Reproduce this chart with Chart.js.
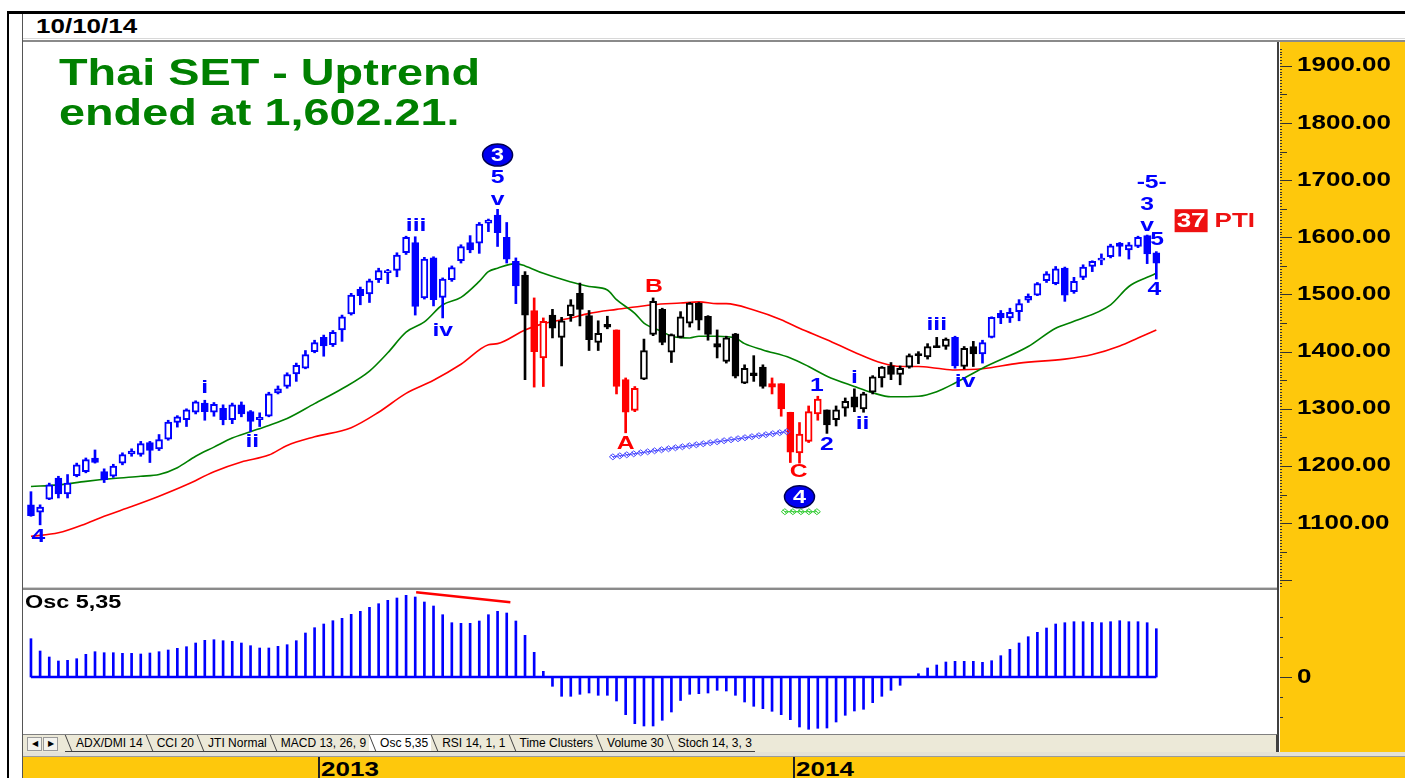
<!DOCTYPE html>
<html>
<head>
<meta charset="utf-8">
<title>Thai SET weekly</title>
<script src="https://cdn.jsdelivr.net/npm/chart.js@4.4.1/dist/chart.umd.min.js"></script>
<style>
  body { margin:0; width:1405px; height:778px; overflow:hidden; background:#fff; position:relative;
         font-family:"Liberation Sans", Arial, sans-serif; }
  .abs { position:absolute; }
  .wide { position:absolute; white-space:nowrap; line-height:1; transform:scaleX(1.3); transform-origin:0 0; }
  #tabs { position:absolute; left:23px; top:734px; width:1255px; height:18px; background:#ECE9D8;
          border-top:1px solid #808080; border-right:2px solid #404040; box-sizing:border-box; }
  .btn { position:absolute; top:2px; width:13px; height:12px; border:1px solid #9a9a9a; background:#f4f3ee;
         font-size:8px; line-height:12px; text-align:center; color:#000; }
  #tabrow { position:absolute; left:42px; top:0; height:16px; display:flex; border-bottom:1px solid #404040; }
  .tab { position:relative; padding:0 3px 0 11px; font-size:12px; line-height:16px; color:#000; white-space:nowrap; }
  .tab::before { content:""; position:absolute; left:3px; top:0; bottom:0; border-left:1px solid #404040; transform:skewX(22deg); }
  .tab.on { background:#fff; }
</style>
</head>
<body>
<!-- frame -->
<div class="abs" style="left:7px;top:11px;width:2px;height:767px;background:#000"></div>
<div class="abs" style="left:7px;top:11px;width:1398px;height:3px;background:#000"></div>
<div class="abs" style="left:22px;top:14px;width:1px;height:764px;background:#555"></div>
<div class="wide" style="left:36px;top:16px;font-weight:bold;font-size:20px;color:#000">10/10/14</div>
<div class="abs" style="left:23px;top:38px;width:1382px;height:1px;background:#d8d8d8"></div>
<div class="abs" style="left:23px;top:40px;width:1382px;height:2px;background:#8a8a8a"></div>

<!-- right axis column and borders -->
<div class="abs" style="left:1280px;top:42px;width:125px;height:710px;background:#FEC80C"></div>
<div class="abs" style="left:1277px;top:42px;width:2px;height:710px;background:#404040"></div>
<div class="abs" style="left:23px;top:587px;width:1254px;height:1px;background:#d0d0d0"></div>
<div class="abs" style="left:23px;top:588px;width:1254px;height:2px;background:#8a8a8a"></div>

<div class="abs" style="left:23px;top:43px;width:1382px;height:547px">
  <canvas id="priceCanvas" width="1382" height="547"></canvas>
</div>
<div class="abs" style="left:23px;top:590px;width:1382px;height:144px">
  <canvas id="oscCanvas" width="1382" height="144"></canvas>
</div>

<div class="wide" style="left:59px;top:55px;font-weight:bold;font-size:36px;color:#008000">Thai SET - Uptrend</div>
<div class="wide" style="left:59px;top:95px;font-weight:bold;font-size:36px;color:#008000">ended at 1,602.21.</div>
<div class="wide" style="left:25px;top:593px;font-weight:bold;font-size:18px;color:#000">Osc 5,35</div>

<div id="tabs">
  <div class="btn" style="left:4px">&#9664;</div>
  <div class="btn" style="left:20px">&#9654;</div>
  <div id="tabrow"></div>
</div>
<div class="abs" style="left:23px;top:752px;width:1382px;height:4px;background:#e4e2d8"></div>
<div class="abs" style="left:23px;top:756px;width:1382px;height:22px;background:#FEC80C;border-top:1px solid #9a9a9a;box-sizing:border-box"></div>

<script>
// weekly candles, Thai SET index (week 0 = mid 2012, week 123 = 10/10/14)
const opens = [1132,1119,1142,1179,1151,1183,1190,1214,1190,1182,
  1205,1221,1220,1241,1230,1247,1276,1281,1294,1310,
  1294,1301,1281,1307,1295,1281,1287,1328,1339,1361,
  1371,1400,1425,1412,1438,1466,1509,1501,1526,1538,
  1542,1573,1591,1494,1564,1495,1526,1559,1591,1590,
  1625,1639,1600,1558,1534,1472,1389,1464,1425,1463,
  1502,1463,1416,1448,1438,1351,1297,1352,1430,1474,
  1399,1425,1450,1485,1462,1414,1383,1431,1345,1363,
  1373,1344,1344,1294,1223,1243,1291,1298,1281,1301,
  1321,1300,1329,1354,1375,1360,1373,1396,1391,1409,
  1409,1425,1374,1409,1396,1425,1467,1459,1470,1490,
  1499,1524,1519,1546,1505,1530,1549,1560,1566,1590,
  1578,1584,1603,1573];
const highs = [1155,1132,1170,1182,1185,1205,1214,1228,1195,1203,
  1223,1230,1243,1243,1255,1280,1288,1300,1314,1315,
  1311,1307,1310,1312,1297,1293,1329,1340,1363,1380,
  1402,1420,1429,1437,1464,1502,1513,1527,1546,1544,
  1573,1602,1601,1565,1566,1529,1550,1587,1603,1626,
  1632,1649,1626,1564,1540,1494,1459,1474,1460,1491,
  1520,1472,1454,1462,1438,1354,1339,1422,1494,1476,
  1431,1470,1486,1486,1463,1438,1427,1432,1377,1393,
  1377,1354,1344,1294,1276,1305,1322,1298,1305,1319,
  1335,1329,1358,1374,1381,1375,1396,1400,1414,1425,
  1424,1427,1409,1418,1420,1461,1472,1476,1491,1501,
  1521,1540,1549,1548,1530,1552,1559,1571,1588,1591,
  1591,1602,1604,1575];
const lows = [1112,1097,1141,1144,1144,1181,1188,1205,1171,1180,
  1202,1217,1217,1206,1227,1245,1268,1269,1291,1280,
  1287,1272,1274,1286,1260,1269,1286,1326,1336,1348,
  1370,1398,1392,1409,1418,1464,1482,1486,1521,1519,
  1531,1570,1464,1492,1480,1459,1523,1555,1573,1572,
  1610,1584,1555,1484,1351,1338,1339,1424,1375,1453,
  1445,1402,1402,1440,1326,1258,1295,1351,1428,1412,
  1381,1424,1443,1438,1420,1389,1380,1354,1344,1348,
  1336,1326,1287,1206,1205,1241,1280,1257,1270,1287,
  1295,1294,1326,1338,1351,1342,1371,1379,1387,1407,
  1404,1371,1370,1374,1380,1424,1449,1451,1454,1486,
  1498,1521,1517,1488,1502,1526,1540,1552,1564,1567,
  1562,1582,1554,1527];
const closes = [1113,1128,1167,1151,1170,1202,1211,1206,1176,1200,
  1220,1226,1239,1227,1246,1277,1286,1298,1312,1295,
  1308,1281,1307,1291,1278,1285,1326,1335,1360,1376,
  1395,1416,1410,1434,1461,1499,1498,1524,1542,1542,
  1569,1600,1479,1562,1491,1527,1547,1584,1578,1623,
  1630,1608,1562,1515,1464,1400,1453,1441,1454,1482,
  1474,1421,1432,1443,1339,1294,1336,1402,1488,1416,
  1430,1461,1485,1455,1430,1408,1424,1357,1371,1358,
  1339,1338,1300,1224,1256,1295,1317,1272,1298,1313,
  1303,1326,1356,1373,1360,1371,1393,1393,1409,1407,
  1422,1375,1406,1396,1416,1460,1459,1469,1484,1497,
  1519,1536,1545,1499,1523,1548,1558,1562,1585,1584,
  1587,1600,1571,1555];

// wave-count phase of the candles: the week each phase starts and its kind
const phaseStartWeeks = [0, 54, 55, 57, 64, 67, 81, 87, 101, 102, 104];
const phaseKinds = ['impulse','neutral','abc','neutral','abc','neutral','abc','neutral','impulse','neutral','impulse'];

// moving averages
const greenMaWeeks = [0,3,6,9,12,14,16,18,20,22,24,26,28,31,34,37,39,41,43,45,47,49,50,51,53,54,56,59,61,63,64,66,67,69,70,72,73,75,77,78,80,83,85,87,90,92,94,97,99,101,104,109,112,114,118,120,122,123];
const greenMaValues = [1164,1167,1173,1178,1182,1185,1197,1217,1233,1249,1260,1271,1283,1309,1335,1366,1398,1434,1452,1482,1495,1523,1540,1546,1554,1550,1537,1522,1514,1508,1491,1467,1450,1435,1427,1424,1427,1427,1424,1414,1403,1389,1374,1357,1339,1328,1321,1322,1330,1345,1371,1409,1441,1453,1482,1514,1530,1537];
const redMaWeeks = [0,3,6,8,11,14,17,20,23,26,28,31,35,38,41,44,47,50,51,54,56,59,61,64,66,68,71,73,75,76,79,82,84,87,90,93,95,97,99,101,104,108,113,116,119,121,123];
const redMaValues = [1077,1083,1099,1112,1129,1147,1167,1190,1207,1219,1236,1251,1267,1294,1327,1350,1378,1412,1414,1438,1449,1459,1467,1474,1478,1482,1485,1487,1484,1484,1473,1456,1441,1421,1399,1380,1374,1374,1371,1368,1370,1380,1387,1395,1410,1424,1438];

// Osc 5,35 histogram
const oscValues = [38.3,26,20,16,16.7,18.3,22.7,25.3,24.3,24.3,
  23.7,23.7,23,24,25.3,27,28.7,30.3,34,36.7,
  37.3,36.3,35.7,34,31.3,29,29,30.7,32.3,36.3,
  44,49.3,53,56.3,58.7,62.7,65.7,69.7,73.3,76.7,
  79,81.7,80,75,71,62.3,54.3,53.7,53.7,56,
  62.3,65.7,64,56,41.7,24.7,5.7,-9.3,-19.3,-19.3,
  -17.3,-16,-18.3,-18.3,-24,-37.7,-46.7,-49,-49,-43.3,
  -35,-23.5,-17.3,-16.7,-16,-13.3,-14,-18.3,-25,-29.3,
  -31.7,-34.3,-37.7,-42.7,-50,-52.3,-51.3,-51,-45,-38.3,
  -34,-32.3,-25.7,-19.3,-13.3,-8.3,-0.7,3.3,9,12,
  15,15.7,15.7,15.7,14.7,16.3,21.3,27.7,34,40.3,
  44.7,49,53,54.3,55.3,55.3,54.7,54.3,55.3,56.3,
  55.3,55.3,54.3,48.3];
const oscDivergenceWeeks = [42.1, 52.4];
const oscDivergenceValues = [84.7, 74.7];

const priceTicks = [1100,1200,1300,1400,1500,1600,1700,1800,1900];
const yearLabels = ['2013', '2014'];
const yearStartWeeks = [31, 83];

// Elliott wave labels: text, week, price
const waveLabels = [
  ['4', 0.8, 1076, 'blue'], ['i', 19.0, 1337, 'blue'], ['ii', 24.2, 1242, 'blue'],
  ['iii', 42.1, 1620, 'blue'], ['iv', 45.0, 1437, 'blue'], ['5', 51.0, 1704, 'blue'],
  ['v', 51.0, 1666, 'blue'], ['B', 68.1, 1514, 'red'], ['A', 65.0, 1239, 'red'],
  ['C', 83.9, 1190, 'red'], ['1', 85.9, 1340, 'blue'], ['2', 87.0, 1237, 'blue'],
  ['i', 90.0, 1354, 'blue'], ['ii', 90.9, 1274, 'blue'], ['iii', 99.0, 1447, 'blue'],
  ['iv', 102.1, 1347, 'blue'], ['-5-', 122.5, 1695, 'blue'], ['3', 122.0, 1657, 'blue'],
  ['v', 122.0, 1621, 'blue'], ['5', 123.1, 1596, 'blue'], ['4', 122.8, 1508, 'blue']
];
const circledLabels = [['3', 51.0, 1744], ['4', 84.0, 1146]];
const blueChain = [[63.6, 1216], [82.6, 1260]];
const greenChain = [[82.4, 1120], [85.9, 1120]];
const ptiValue = '37';
const ptiSpot = [125.0, 1630];

const tabNames = ['ADX/DMI 14','CCI 20','JTI Normal','MACD 13, 26, 9','Osc 5,35','RSI 14, 1, 1','Time Clusters','Volume 30','Stoch 14, 3, 3'];

const palette = { impulse: '#0000FF', neutral: '#000000', abc: '#FF0000' };
const labelColor = { blue: '#0000FF', red: '#FF0000' };
const FONT = '"Liberation Sans", Arial, sans-serif';

function candleColor(i) {
  let k = 0;
  while (k + 1 < phaseStartWeeks.length && phaseStartWeeks[k + 1] <= i) k++;
  return palette[phaseKinds[k]];
}

// text drawn a little wide, like the screenshot
function wideText(ctx, s, x, y, font, color, align) {
  ctx.save();
  ctx.font = font;
  ctx.fillStyle = color;
  ctx.textAlign = align || 'center';
  ctx.textBaseline = 'middle';
  ctx.translate(x, y);
  ctx.scale(1.3, 1);
  ctx.fillText(s, 0, 0);
  ctx.restore();
}

function drawChain(ctx, x1, y1, x2, y2, color) {
  const n = Math.max(1, Math.floor(Math.hypot(x2 - x1, y2 - y1) / 7));
  ctx.save();
  ctx.strokeStyle = color;
  ctx.lineWidth = 1;
  ctx.beginPath(); ctx.moveTo(x1, y1); ctx.lineTo(x2, y2); ctx.stroke();
  for (let k = 0; k <= n; k++) {
    const cx = x1 + (x2 - x1) * k / n, cy = y1 + (y2 - y1) * k / n;
    ctx.beginPath();
    ctx.moveTo(cx - 3.5, cy); ctx.lineTo(cx, cy - 3); ctx.lineTo(cx + 3.5, cy); ctx.lineTo(cx, cy + 3);
    ctx.closePath();
    ctx.moveTo(cx - 2, cy - 2); ctx.lineTo(cx + 2, cy + 2);
    ctx.stroke();
  }
  ctx.restore();
}

const xAxis = { type: 'linear', min: -0.87, max: 136.3, display: false, offset: false };

// right hand price scale (ticks + labels)
const priceAxisPlugin = {
  id: 'priceAxis',
  afterDraw(chart) {
    const { ctx, chartArea, scales: { y } } = chart;
    const x0 = chartArea.right + 2;
    ctx.save();
    ctx.strokeStyle = '#333';
    ctx.lineWidth = 1;
    for (let v = 990; v <= 1930; v += 5) {
      const py = Math.round(y.getPixelForValue(v)) + 0.5;
      const len = v % 100 === 0 ? 12 : (v % 50 === 0 ? 7 : 2);
      ctx.beginPath(); ctx.moveTo(x0, py); ctx.lineTo(x0 + len, py); ctx.stroke();
    }
    ctx.restore();
    priceTicks.forEach(v => wideText(ctx, v.toFixed(2), x0 + 17, y.getPixelForValue(v), 'bold 20px ' + FONT, '#000', 'left'));
  }
};

// wave labels and marks on the price panel
const wavePlugin = {
  id: 'waves',
  afterDatasetsDraw(chart) {
    const { ctx, scales: { x, y } } = chart;
    drawChain(ctx, x.getPixelForValue(blueChain[0][0]), y.getPixelForValue(blueChain[0][1]),
      x.getPixelForValue(blueChain[1][0]), y.getPixelForValue(blueChain[1][1]), '#4a4aff');
    drawChain(ctx, x.getPixelForValue(greenChain[0][0]), y.getPixelForValue(greenChain[0][1]),
      x.getPixelForValue(greenChain[1][0]), y.getPixelForValue(greenChain[1][1]), '#33cc33');

    waveLabels.forEach(([t, w, p, c]) => {
      wideText(ctx, t, x.getPixelForValue(w), y.getPixelForValue(p), 'bold 19px ' + FONT, labelColor[c]);
    });

    circledLabels.forEach(([t, w, p]) => {
      const cx = x.getPixelForValue(w), cy = y.getPixelForValue(p);
      ctx.save();
      ctx.beginPath();
      ctx.ellipse(cx, cy, 15, 11, 0, 0, Math.PI * 2);
      ctx.fillStyle = '#0000F0';
      ctx.fill();
      ctx.lineWidth = 1.5;
      ctx.strokeStyle = '#000050';
      ctx.stroke();
      ctx.restore();
      wideText(ctx, t, cx, cy + 1, 'bold 18px ' + FONT, '#fff');
    });

    const bx = x.getPixelForValue(ptiSpot[0]), by = y.getPixelForValue(ptiSpot[1]);
    ctx.save();
    ctx.fillStyle = '#EE1111';
    ctx.fillRect(bx, by - 11, 33, 23);
    ctx.restore();
    wideText(ctx, ptiValue, bx + 16.5, by + 1, 'bold 20px ' + FONT, '#fff');
    wideText(ctx, 'PTI', bx + 40, by + 1, 'bold 20px ' + FONT, '#EE1111', 'left');
  }
};

const priceChart = new Chart(document.getElementById('priceCanvas'), {
  type: 'bar',
  data: {
    datasets: [
      {
        label: 'body',
        data: opens.map((o, i) => ({ x: i, y: [o, closes[i]] })),
        backgroundColor: opens.map((o, i) => closes[i] < o ? candleColor(i) : '#ffffff'),
        borderColor: opens.map((o, i) => candleColor(i)),
        borderWidth: 2,
        borderSkipped: false,
        barThickness: 7,
        minBarLength: 2,
        grouped: false,
        order: 1
      },
      {
        label: 'wick',
        data: lows.map((l, i) => ({ x: i, y: [l, highs[i]] })),
        backgroundColor: lows.map((l, i) => candleColor(i)),
        borderWidth: 0,
        barThickness: 2,
        grouped: false,
        order: 2
      },
      {
        type: 'line',
        label: 'short MA',
        data: greenMaWeeks.map((w, k) => ({ x: w, y: greenMaValues[k] })),
        borderColor: '#008000',
        borderWidth: 1.6,
        pointRadius: 0,
        cubicInterpolationMode: 'monotone',
        order: 3
      },
      {
        type: 'line',
        label: 'long MA',
        data: redMaWeeks.map((w, k) => ({ x: w, y: redMaValues[k] })),
        borderColor: '#FF0000',
        borderWidth: 1.6,
        pointRadius: 0,
        cubicInterpolationMode: 'monotone',
        order: 4
      }
    ]
  },
  options: {
    responsive: false,
    animation: false,
    events: [],
    layout: { padding: { left: 0, right: 127, top: 0, bottom: 0 } },
    plugins: { legend: { display: false }, tooltip: { enabled: false } },
    scales: {
      x: xAxis,
      y: { min: 983, max: 1940, display: false }
    }
  },
  plugins: [priceAxisPlugin, wavePlugin]
});

// oscillator scale
const oscAxisPlugin = {
  id: 'oscAxis',
  afterDraw(chart) {
    const { ctx, chartArea, scales: { y } } = chart;
    const x0 = chartArea.right + 2;
    ctx.save();
    ctx.strokeStyle = '#333';
    ctx.lineWidth = 1;
    [-40, -20, 0, 20, 40, 60].forEach(v => {
      const py = Math.round(y.getPixelForValue(v)) + 0.5;
      ctx.beginPath(); ctx.moveTo(x0, py); ctx.lineTo(x0 + (v === 0 ? 12 : 3), py); ctx.stroke();
    });
    ctx.restore();
    wideText(ctx, '0', x0 + 17, y.getPixelForValue(0), 'bold 20px ' + FONT, '#000', 'left');
  }
};

new Chart(document.getElementById('oscCanvas'), {
  type: 'bar',
  data: {
    datasets: [
      {
        label: 'Osc 5,35',
        data: oscValues.map((v, i) => ({ x: i, y: v })),
        backgroundColor: '#0000FF',
        barThickness: 2,
        grouped: false,
        order: 2
      },
      {
        type: 'line',
        label: 'zero',
        data: [{ x: 0, y: 0 }, { x: oscValues.length - 1, y: 0 }],
        borderColor: '#0000FF',
        borderWidth: 2.5,
        pointRadius: 0,
        order: 1
      },
      {
        type: 'line',
        label: 'divergence',
        data: oscDivergenceWeeks.map((w, k) => ({ x: w, y: oscDivergenceValues[k] })),
        borderColor: '#FF0000',
        borderWidth: 2.5,
        pointRadius: 0,
        order: 0
      }
    ]
  },
  options: {
    responsive: false,
    animation: false,
    events: [],
    layout: { padding: { left: 0, right: 127, top: 0, bottom: 0 } },
    plugins: { legend: { display: false }, tooltip: { enabled: false } },
    scales: {
      x: xAxis,
      y: { min: -57, max: 87, display: false }
    }
  },
  plugins: [oscAxisPlugin]
});

// indicator tabs
const tabRow = document.getElementById('tabrow');
tabNames.forEach(name => {
  const t = document.createElement('div');
  t.className = 'tab' + (name === 'Osc 5,35' ? ' on' : '');
  t.textContent = name;
  tabRow.appendChild(t);
});

// year bar, placed with the price chart's x scale
const xs = priceChart.scales.x;
yearLabels.forEach((yr, k) => {
  const px = 23 + xs.getPixelForValue(yearStartWeeks[k]) + 3;
  const line = document.createElement('div');
  line.className = 'abs';
  line.style.cssText = `left:${px}px;top:757px;width:2px;height:21px;background:#222`;
  const lab = document.createElement('div');
  lab.className = 'wide';
  lab.style.cssText = `left:${px + 3}px;top:759px;font-weight:bold;font-size:20px;color:#000`;
  lab.textContent = yr;
  document.body.append(line, lab);
});
</script>
</body>
</html>
